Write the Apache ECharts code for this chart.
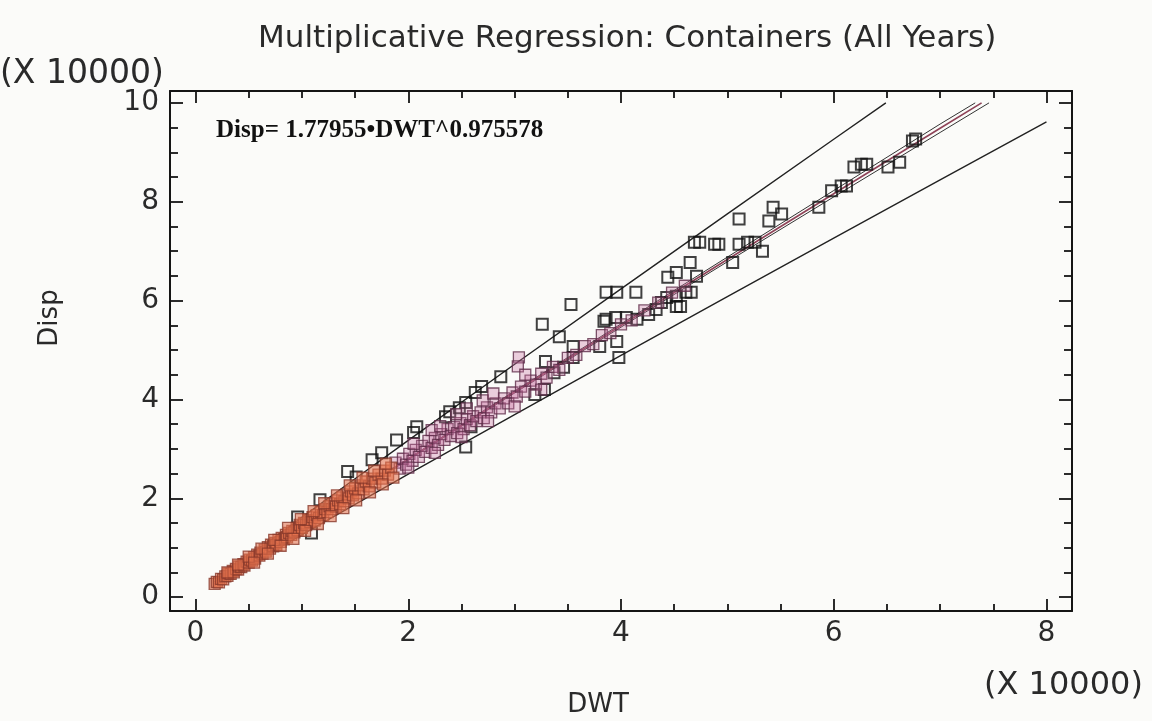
<!DOCTYPE html>
<html>
<head>
<meta charset="utf-8">
<script src="https://cdn.jsdelivr.net/npm/echarts@6/dist/echarts.min.js"></script>
<style>
html,body{margin:0;padding:0;background:#fbfbf9;}
#chart{width:1152px;height:721px;}
</style>
</head>
<body>
<div id="chart"></div>
<script>
// ---- data (units of 10000) ----
const titleText = 'Multiplicative Regression: Containers (All Years)';
const equationText = 'Disp= 1.77955\u2022DWT^0.975578';
const xName = 'DWT';
const yName = 'Disp';
const scaleText = '(X 10000)';
const xTicksMajor = [0, 2, 4, 6, 8];
const xTicksMinor = [0.5, 1, 1.5, 2.5, 3, 3.5, 4.5, 5, 5.5, 6.5, 7, 7.5];
const yTicksMajor = [0, 2, 4, 6, 8, 10];
const yTicksMinor = [0.5, 1, 1.5, 2.5, 3, 3.5, 4.5, 5, 5.5, 6.5, 7, 7.5, 8.5, 9, 9.5];
const X_MIN = -0.24, X_MAX = 8.24, Y_MIN = -0.28, Y_MAX = 10.24;

// dense low band
const orangeX = [0.18,0.20,0.22,0.24,0.26,0.28,0.30,0.31,0.33,0.35,0.36,0.38,0.40,0.41,0.43,0.45,0.46,0.48,0.50,0.51,0.53,0.55,0.56,0.58,0.60,0.61,0.63,0.65,0.66,0.68,0.70,0.71,0.73,0.75,0.76,0.78,0.80,0.81,0.83,0.85,0.86,0.88,0.90,0.91,0.93,0.95,0.96,0.98,1.00,1.02,1.04,1.06,1.08,1.10,1.12,1.14,1.16,1.18,1.20,1.22,1.24,1.26,1.28,1.30,1.32,1.34,1.36,1.38,1.40,1.42,1.44,1.46,1.48,1.50,1.53,1.55,1.58,1.60,1.63,1.66,1.69,1.72,1.75,1.78,1.81,1.84,
  0.30,0.40,0.50,0.62,0.74,0.87,0.99,1.11,1.21,1.33,1.45,1.57,1.68,1.79,
  0.55,0.68,0.80,0.92,1.03,1.15,1.27,1.39,1.51,1.64,1.76,1.86];
const orangeY = [0.27,0.31,0.30,0.37,0.36,0.42,0.43,0.48,0.47,0.53,0.50,0.57,0.56,0.62,0.61,0.67,0.64,0.72,0.70,0.76,0.74,0.81,0.78,0.86,0.84,0.90,0.88,0.96,0.92,1.01,0.98,1.06,1.03,1.10,1.06,1.16,1.12,1.20,1.17,1.26,1.21,1.30,1.26,1.34,1.31,1.40,1.35,1.46,1.40,1.50,1.46,1.56,1.52,1.62,1.55,1.66,1.60,1.72,1.66,1.78,1.72,1.84,1.78,1.90,1.83,1.96,1.88,2.02,1.94,2.08,2.00,2.14,2.06,2.20,2.10,2.26,2.18,2.34,2.24,2.40,2.32,2.48,2.40,2.56,2.48,2.62,
  0.50,0.66,0.82,0.98,1.16,1.40,1.58,1.74,1.90,2.06,2.26,2.42,2.56,2.70,
  0.70,0.88,1.04,1.18,1.34,1.48,1.64,1.80,1.96,2.12,2.28,2.42];

// mid band
const pinkX = [1.88,1.92,1.95,1.98,2.01,2.04,2.07,2.10,2.13,2.16,2.19,2.22,2.25,2.28,2.31,2.34,2.37,2.40,2.43,2.46,2.49,2.52,2.55,2.58,2.61,2.64,2.68,2.71,2.74,2.78,2.82,2.86,2.90,2.94,2.98,3.02,3.06,3.10,3.15,3.20,3.25,3.30,3.36,3.42,3.50,3.58,3.66,3.74,3.82,3.90,4.00,4.10,4.22,4.35,4.48,4.60,2.22,2.45,2.70,3.04,3.03,
  2.05,2.30,2.55,2.80,3.10,2.00,2.25,2.50,2.75,3.00,3.25];
const pinkY = [2.72,2.60,2.80,2.68,2.90,2.76,2.98,2.84,3.06,2.94,3.16,3.02,3.22,3.08,3.30,3.18,3.40,3.26,3.44,3.32,3.52,3.40,3.60,3.48,3.66,3.56,3.74,3.62,3.84,3.74,3.92,3.82,4.02,3.92,4.14,4.06,4.26,4.16,4.38,4.30,4.52,4.44,4.66,4.60,4.84,4.90,5.08,5.12,5.30,5.34,5.52,5.60,5.80,5.96,6.16,6.30,3.38,3.70,3.98,4.85,4.67,
  3.10,3.46,3.82,4.12,4.50,2.62,2.92,3.24,3.56,3.86,4.20];

// outlined points
const blackX = [0.96,1.09,1.17,1.43,1.51,1.66,1.75,1.89,2.05,2.08,2.35,2.39,2.48,2.54,2.54,2.59,2.63,2.69,2.87,3.19,3.26,3.28,3.29,3.37,3.42,3.46,3.53,3.55,3.55,3.80,3.84,3.86,3.86,3.95,3.96,3.96,3.98,4.05,4.14,4.15,4.26,4.33,4.38,4.43,4.44,4.52,4.52,4.52,4.56,4.61,4.65,4.66,4.69,4.71,4.74,4.88,4.92,5.05,5.11,5.11,5.19,5.26,5.33,5.39,5.43,5.51,5.86,5.98,6.07,6.12,6.19,6.26,6.31,6.51,6.62,6.74,6.77];
const blackY = [1.62,1.30,1.97,2.54,2.43,2.78,2.92,3.18,3.33,3.45,3.65,3.75,3.83,3.94,3.04,3.45,4.14,4.26,4.46,4.10,5.52,4.20,4.77,4.54,5.27,4.65,5.92,5.07,4.85,5.07,5.58,6.17,5.62,5.66,6.17,5.17,4.85,5.66,6.17,5.62,5.72,5.82,5.96,6.06,6.47,6.09,6.57,5.88,5.88,6.17,6.77,6.17,7.18,6.49,7.18,7.14,7.14,6.77,7.65,7.14,7.18,7.18,7.00,7.61,7.89,7.75,7.89,8.22,8.32,8.32,8.70,8.76,8.76,8.70,8.80,9.23,9.27];

// fitted line and limits
const fitX = [0.18,0.5,1,1.5,2,3,4,5,6,7,7.39];
const fitY = [0.267,0.723,1.421,2.111,2.794,4.151,5.495,6.832,8.162,9.486,10.0];
const confUpX = [0.18,0.5,1,1.5,2,3,4,5,6,7,7.33];
const confUpY = [0.270,0.729,1.428,2.119,2.806,4.171,5.528,6.880,8.227,9.571,10.0];
const confLoX = [0.18,0.5,1,1.5,2,3,4,5,6,7,7.46];
const confLoY = [0.264,0.717,1.414,2.102,2.783,4.130,5.462,6.785,8.097,9.401,10.0];
const predUpX = [0.18,0.5,1,1.5,2,3,4,5,6,6.49];
const predUpY = [0.303,0.820,1.613,2.396,3.172,4.711,6.237,7.755,9.264,10.0];
const predLoX = [0.18,0.5,1,1.5,2,3,4,5,6,7,8];
const predLoY = [0.237,0.643,1.265,1.879,2.487,3.694,4.891,6.081,7.264,8.442,9.617];

const zip = (xs, ys) => xs.map((x, i) => [x, ys[i]]);

const FONT = 'DejaVu Sans';
const INK = '#151515';
const TXT = '#2a2a2a';

function xAx(pos, major, showLine) {
  return {
    type: 'value', position: pos, min: X_MIN, max: X_MAX,
    splitLine: {show: false},
    axisLine: {show: showLine, onZero: false, lineStyle: {color: INK, width: 2}},
    axisTick: {show: true, inside: true, length: major ? 12 : 7,
      customValues: major ? xTicksMajor : xTicksMinor, lineStyle: {color: INK, width: 1.8}},
    axisLabel: {show: false}
  };
}
function yAx(pos, major, showLine) {
  return {
    type: 'value', position: pos, min: Y_MIN, max: Y_MAX,
    splitLine: {show: false},
    axisLine: {show: showLine, onZero: false, lineStyle: {color: INK, width: 2}},
    axisTick: {show: true, inside: true, length: major ? 13 : 8,
      customValues: major ? yTicksMajor : yTicksMinor, lineStyle: {color: INK, width: 1.8}},
    axisLabel: {show: false}
  };
}

const xMain = xAx('bottom', true, true);
xMain.axisLabel = {show: true, customValues: xTicksMajor, margin: 9, fontSize: 28,
  color: TXT, fontFamily: FONT};
const yMain = yAx('left', true, true);
yMain.axisLabel = {show: true, customValues: yTicksMajor, margin: 11, fontSize: 28,
  color: TXT, fontFamily: FONT};

const lineBase = {type: 'line', symbol: 'none', silent: true, xAxisIndex: 0, yAxisIndex: 0, z: 1};

const chart = echarts.init(document.getElementById('chart'), null, {renderer: 'canvas'});
chart.setOption({
  backgroundColor: '#fbfbf9',
  animation: false,
  title: {text: titleText, left: 253, top: 18,
    textStyle: {fontFamily: FONT, fontSize: 31, fontWeight: 'normal', color: TXT}},
  grid: {left: 170, right: 80, top: 91, bottom: 110, containLabel: false},
  xAxis: [xMain, xAx('bottom', false, false), xAx('top', true, true), xAx('top', false, false)],
  yAxis: [yMain, yAx('left', false, false), yAx('right', true, true), yAx('right', false, false)],
  graphic: [
    {type: 'text', left: 0, top: 58, style: {text: scaleText, font: '33px "DejaVu Sans"', fill: TXT}},
    {type: 'text', left: 984, top: 670, style: {text: scaleText, font: '32px "DejaVu Sans"', fill: TXT}},
    {type: 'text', x: 598, y: 705, style: {text: xName, font: '26px "DejaVu Sans"', fill: TXT, align: 'center', verticalAlign: 'middle'}},
    {type: 'text', x: 50, y: 318, rotation: Math.PI / 2, style: {text: yName, font: '26px "DejaVu Sans"', fill: TXT, align: 'center', verticalAlign: 'middle'}},
    {type: 'text', left: 216, top: 118, style: {text: equationText, font: 'bold 25px "Liberation Serif"', fill: '#111'}}
  ],
  series: [
    Object.assign({}, lineBase, {name: 'predUp', data: zip(predUpX, predUpY), lineStyle: {color: '#222', width: 1.4}}),
    Object.assign({}, lineBase, {name: 'predLo', data: zip(predLoX, predLoY), lineStyle: {color: '#222', width: 1.4}}),
    Object.assign({}, lineBase, {name: 'confUp', data: zip(confUpX, confUpY), lineStyle: {color: '#333', width: 1}}),
    Object.assign({}, lineBase, {name: 'confLo', data: zip(confLoX, confLoY), lineStyle: {color: '#333', width: 1}}),
    Object.assign({}, lineBase, {name: 'fit', data: zip(fitX, fitY), lineStyle: {color: '#8e4358', width: 1.6}}),
    {type: 'scatter', name: 'black', z: 3, symbol: 'rect', symbolSize: 11, data: zip(blackX, blackY),
      itemStyle: {color: 'rgba(255,255,255,0)', borderColor: '#111', borderWidth: 2}},
    {type: 'scatter', name: 'pink', z: 3, symbol: 'rect', symbolSize: 11, data: zip(pinkX, pinkY),
      itemStyle: {color: 'rgba(200,110,160,0.4)', borderColor: '#5e2c48', borderWidth: 1.3}},
    {type: 'scatter', name: 'orange', z: 4, symbol: 'rect', symbolSize: 11, data: zip(orangeX, orangeY),
      itemStyle: {color: 'rgba(228,112,76,0.72)', borderColor: '#87382a', borderWidth: 1.3}}
  ]
});
</script>
</body>
</html>
